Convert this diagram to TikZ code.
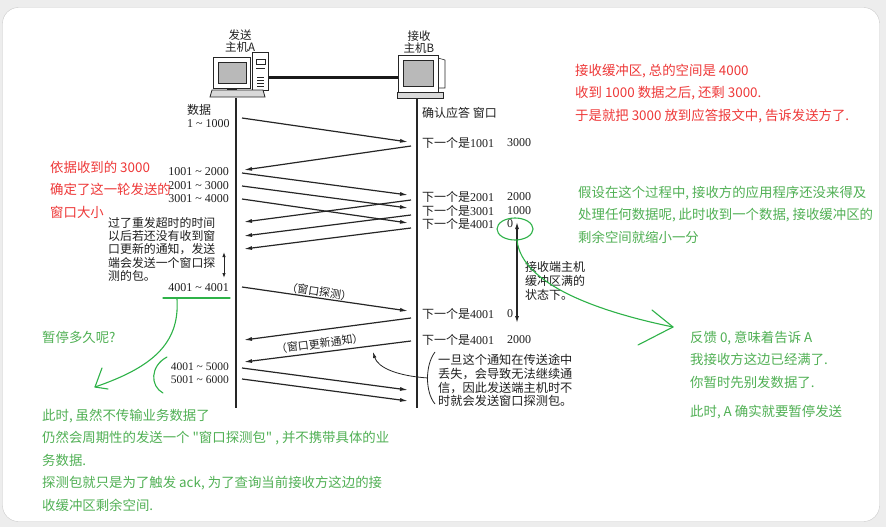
\documentclass[tikz,border=0pt]{standalone}
\usepackage{fontspec}
\setmainfont{Noto Sans CJK SC}[Ligatures=TeXOff]
\newfontfamily\numfont{Liberation Serif}
\usetikzlibrary{arrows.meta}
\usetikzlibrary{calc}
\usetikzlibrary{shapes.geometric}
\usepackage{xcolor}
\definecolor{notered}{RGB}{238,56,56}
\definecolor{notegreen}{RGB}{80,176,84}
\definecolor{pengreen}{RGB}{46,178,72}
\newcommand{\nb}[1]{{\numfont #1}}
\newcommand{\rng}[2]{{\numfont #1 \textasciitilde{} #2}}

\begin{document}
\begin{tikzpicture}[x=1pt,y=-1pt,
    dgm/.style={inner sep=0pt, text=black!88, font=\fontsize{12}{13.5}\selectfont},
    note/.style={inner sep=0pt, align=left, anchor=north west, font=\fontsize{13.4}{22.4}\selectfont},
    msg/.style={line width=1.2pt, black!85, -{Latex[length=8pt,width=4pt]}},
    pen/.style={pengreen, line width=1.1pt, line cap=round, line join=round}]

        % Frame
        \useasboundingbox (0,0) rectangle (886,527);
        \fill[gray!14] (0,0) rectangle (886,527);
        \draw[gray!40, fill=white, rounded corners=16pt] (2.5,7.5) rectangle (879.5,521.5);

        % Host A
        \draw[black!85, line width=0.8pt, fill=white] (213,57) rectangle (250,88);
        \draw[black!85, line width=0.6pt, fill=gray!55] (218,62) rectangle (246,83);
        \fill[black!85] (227,88) rectangle (237,91);
        \node[draw=black!85, line width=0.8pt, fill=white, minimum width=16pt, minimum height=38pt,
              inner sep=0pt, anchor=north west] (towerA) at (252,52) {};
        \draw[black!85, line width=0.6pt] (256,59) rectangle (265,64);
        \draw[black!85, line width=0.6pt] (256,68) -- (265,68);
        \foreach \v in {77,80,83,86}
          \draw[black!85, line width=0.5pt] (257,\v) -- (264,\v);
        \draw[black!85, line width=0.8pt, fill=gray!30] (212,90) -- (263,90) -- (265,97) -- (210,97) -- cycle;

        % Host B
        \node[draw=black!85, line width=0.8pt, fill=white, minimum width=40pt, minimum height=37pt,
              inner sep=0pt, anchor=north west] (monB) at (398,55) {};
        \draw[black!85, line width=0.6pt, fill=gray!55] (403,60) rectangle (433,86);
        \draw[black!85, line width=0.6pt] (438,58) -- (445,60) -- (445,88) -- (438,88);
        \draw[black!85, line width=0.8pt, fill=gray!30] (397,92) rectangle (443,98);

        % Link
        \draw[line width=2.4pt, black!90] ($(towerA.east)+(0,6)$) -- ($(monB.west)+(0,3.5)$);

        \node[dgm, align=center, font=\fontsize{11.5}{12.5}\selectfont] (labA) at (240,41) {发送\\主机A};
        \node[dgm, align=center, font=\fontsize{11.5}{12.5}\selectfont] (labB) at (419,42) {接收\\主机B};

        % Time lines
        \coordinate (Atop) at (236,98);
        \coordinate (Abot) at (236,408);
        \coordinate (Btop) at (417,98);
        \coordinate (Bbot) at (417,408);
        \draw[line width=1.4pt, black!85] (Atop) -- (Abot);
        \draw[line width=1.4pt, black!85] (Btop) -- (Bbot);

        % Segments A to B
        \foreach \ya/\yb in {118/142,173/195,186/208,199/223,368/390,379/401}
        {
          \coordinate (S\ya) at (242,\ya);
          \coordinate (R\ya) at (408,\yb);
          \draw[msg] (S\ya) -- (R\ya);
        }

        % Acks B to A
        \foreach \yb/\ya in {146/170,200/222,215/236,228/249,318/340}
        {
          \coordinate (Q\yb) at (411,\yb);
          \coordinate (P\yb) at (244,\ya);
          \draw[msg] (Q\yb) -- (P\yb);
        }

        % Probe and window update
        \coordinate (S287) at (242,287);
        \coordinate (R287) at (408,311);
        \draw[msg] (S287) -- node[dgm, sloped, above=0.5pt, pos=0.46, font=\fontsize{11}{12}\selectfont] (probe) {（窗口探测）} (R287);
        \coordinate (Q341) at (411,341);
        \coordinate (P341) at (244,362);
        \draw[msg] (Q341) -- node[dgm, sloped, above=3pt, pos=0.54, font=\fontsize{11}{12}\selectfont] (update) {（窗口更新通知）} (P341);

        % Sender side labels
        \node[dgm, align=left, anchor=north west] (data) at (187,104) {数据\\\rng{1}{1000}};
        \node[dgm, anchor=east] (seg2) at (229,172) {\rng{1001}{2000}};
        \node[dgm, anchor=east] (seg3) at (229,186) {\rng{2001}{3000}};
        \node[dgm, anchor=east] (seg4) at (229,199) {\rng{3001}{4000}};
        \node[dgm, anchor=east] (seg5) at (229,288) {\rng{4001}{4001}};
        \node[dgm, anchor=east, font=\fontsize{11.5}{12}\selectfont] (seg6) at (229,367) {\rng{4001}{5000}};
        \node[dgm, anchor=east, font=\fontsize{11.5}{12}\selectfont] (seg7) at (229,380) {\rng{5001}{6000}};
        \node[dgm, align=left, anchor=north west, font=\fontsize{11.9}{13.3}\selectfont] (timeout) at (108,217)
          {过了重发超时的时间\\以后若还没有收到窗\\口更新的通知，发送\\端会发送一个窗口探\\测的包。};
        \coordinate (waitT) at (224,252);
        \coordinate (waitB) at (224,278);
        \draw[line width=0.9pt, black!85, {Latex[length=5pt,width=3.5pt]}-{Latex[length=5pt,width=3.5pt]}] (waitT) -- (waitB);

        % Receiver side labels
        \node[dgm, anchor=west] (ackhead) at (422,113) {确认应答 窗口};
        \node[dgm, anchor=west] (ack1) at (422,143) {下一个是\nb{1001}};
        \node[dgm, anchor=west] (win1) at (507,143) {\nb{3000}};
        \node[dgm, anchor=west] (ack2) at (422,197) {下一个是\nb{2001}};
        \node[dgm, anchor=west] (win2) at (507,197) {\nb{2000}};
        \node[dgm, anchor=west] (ack3) at (422,211) {下一个是\nb{3001}};
        \node[dgm, anchor=west] (win3) at (507,211) {\nb{1000}};
        \node[dgm, anchor=west] (ack4) at (422,224) {下一个是\nb{4001}};
        \node[dgm, anchor=west] (zero) at (507,224) {\nb{0}};
        \node[dgm, anchor=west] (ack5) at (422,314) {下一个是\nb{4001}};
        \node[dgm, anchor=west] (win5) at (507,314) {\nb{0}};
        \node[dgm, anchor=west] (ack6) at (422,340) {下一个是\nb{4001}};
        \node[dgm, anchor=west] (win6) at (507,340) {\nb{2000}};

        \coordinate (fullT) at (517,222);
        \coordinate (fullB) at (517,323);
        \draw[line width=1.2pt, black!85, {Latex[length=7pt,width=4pt]}-{Latex[length=7pt,width=4pt]}] (fullT) -- (fullB);
        \node[dgm, align=left, anchor=north west, font=\fontsize{12}{14}\selectfont] (full) at (525,261)
          {接收端主机\\缓冲区满的\\状态下。};

        \node[dgm, align=left, anchor=north west, font=\fontsize{12.2}{13.8}\selectfont] (lost) at (438,354)
          {一旦这个通知在传送途中\\丢失，会导致无法继续通\\信，因此发送端主机时不\\时就会发送窗口探测包。};
        \draw[line width=0.8pt, black!85] (435,352) .. controls (425,365) and (425,392) .. (435,404);
        \coordinate (bmid) at (428,378);
        \coordinate (updtip) at (373,352);
        \draw[line width=0.8pt, black!85, -{Latex[length=6pt,width=3.5pt]}] (bmid) .. controls (398,376) and (378,368) .. (updtip);

        % Notes
        \node[note, text=notered] (buf) at (575,64)
          {接收缓冲区, 总的空间是 4000\\收到 1000 数据之后, 还剩 3000.\\于是就把 3000 放到应答报文中, 告诉发送方了.};
        \node[note, text=notered] (size) at (50,161)
          {依据收到的 3000\\确定了这一轮发送的\\窗口大小};
        \node[note, text=notegreen] (shrink) at (578,186)
          {假设在这个过程中, 接收方的应用程序还没来得及\\处理任何数据呢, 此时收到一个数据, 接收缓冲区的\\剩余空间就缩小一分};
        \node[note, text=notegreen] (fb) at (690,331)
          {反馈 0, 意味着告诉 A\\我接收方这边已经满了.\\你暂时先别发数据了.\\[7pt]此时, A 确实就要暂停发送};
        \node[note, text=notegreen] (howlong) at (42,331) {暂停多久呢?};
        \node[note, text=notegreen] (probeinfo) at (42,409)
          {此时, 虽然不传输业务数据了\\仍然会周期性的发送一个 "窗口探测包" , 并不携带具体的业\\务数据.\\探测包就只是为了触发 ack, 为了查询当前接收方这边的接\\收缓冲区剩余空间.};

        % Green pen marks
        \node[draw=pengreen, line width=1.1pt, ellipse, minimum width=36pt, minimum height=22pt, inner sep=0pt] (ring) at (515,229) {};
        \coordinate (fbtip) at (673,327);
        \draw[pen] (ring.-80) .. controls (522,285) and (600,312) .. (fbtip);
        \draw[pen] ($(fbtip)+(-21,-17)$) -- (fbtip) -- ($(fbtip)+(-35,18)$);

        \coordinate (ulL) at (163,298);
        \coordinate (ulR) at (230,298);
        \draw[pen] (ulL) -- (ulR);
        \coordinate (waittip) at (95,387);
        \draw[pen] (177,299) .. controls (180,345) and (150,368) .. (waittip);
        \draw[pen] ($(waittip)+(7,-19)$) -- (waittip) -- ($(waittip)+(13,2)$);
        \draw[pen] (167,357) .. controls (150,366) and (150,386) .. (163,393);

\end{tikzpicture}
\end{document}
